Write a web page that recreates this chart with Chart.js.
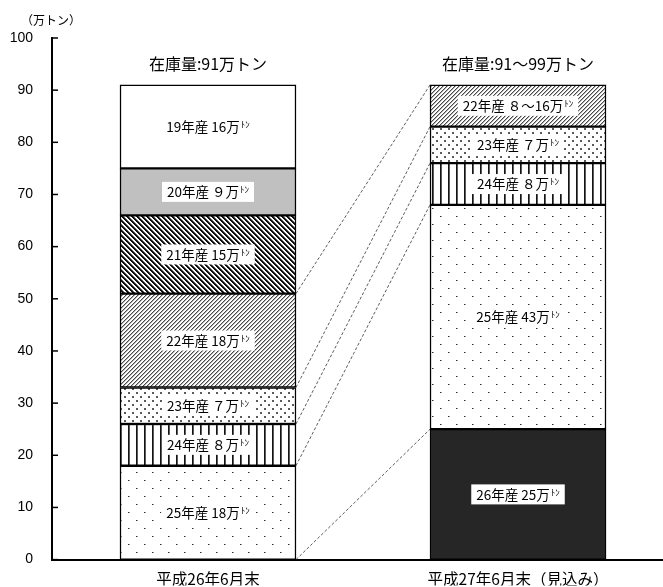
<!DOCTYPE html>
<html>
<head>
<meta charset="utf-8">
<script src="https://cdn.jsdelivr.net/npm/chart.js@4.4.1/dist/chart.umd.min.js"></script>
<style>
  html, body { margin: 0; padding: 0; background: #fff; }
  canvas { display: block; }
</style>
</head>
<body>
<canvas id="stock" width="663" height="587"></canvas>
<script>
// ---- data (stack order: bottom -> top) ----
const categories = ['平成26年6月末', '平成27年6月末（見込み）'];
const totals = ['91', '91～99'];
const vintages = ['26年産', '25年産', '24年産', '23年産', '22年産', '21年産', '20年産', '19年産'];
const stockH26 = [null, 18, 8, 7, 18, 15, 9, 16];
const stockH27 = [25, 43, 8, 7, 8, null, null, null];
const amountH26 = ['', '18', '８', '７', '18', '15', '９', '16'];
const amountH27 = ['25', '43', '８', '７', '８～16', '', '', ''];
const carried = ['25年産', '24年産', '23年産', '22年産'];   // linked by dashed lines
const yMin = 0, yMax = 100, yStep = 10;

const JP = '"Noto Sans CJK JP", sans-serif';

// ---- fill patterns ----
function tile(w, h, fn) {
  const c = document.createElement('canvas');
  c.width = w; c.height = h;
  const ctx = c.getContext('2d');
  const img = ctx.createImageData(w, h);
  for (let y = 0; y < h; y++) {
    for (let x = 0; x < w; x++) {
      const v = fn(x, y);
      const k = (y * w + x) * 4;
      img.data[k] = img.data[k + 1] = img.data[k + 2] = v;
      img.data[k + 3] = 255;
    }
  }
  ctx.putImageData(img, 0, 0);
  return ctx.createPattern(c, 'repeat');
}
const mod = (a, n) => ((a % n) + n) % n;

const fills = {
  '19年産': '#ffffff',
  '20年産': '#c0c0c0',
  '21年産': tile(5, 5, (x, y) => { const m = mod(x - y, 5); return m < 2 ? 15 : m === 2 ? 100 : 255; }),
  '22年産': tile(4, 4, (x, y) => { const m = mod(x + y, 4); return m === 0 ? 70 : m === 1 ? 180 : 255; }),
  '23年産': tile(8, 8, (x, y) => {
    const a = (x < 2 && y < 2) || (x >= 4 && x < 6 && y >= 4 && y < 6);
    return a ? 90 : 255;
  }),
  '24年産': tile(8, 1, (x) => x === 0 ? 20 : x === 1 ? 90 : 255),
  '25年産': tile(16, 16, (x, y) => ((x === 0 && y === 0) || (x === 8 && y === 8)) ? 40 : ((x === 1 && y === 0) || (x === 9 && y === 8)) ? 150 : 255),
  '26年産': '#262626'
};

const datasets = vintages.map((v, i) => ({
  label: v,
  data: [{ x: 0, y: stockH26[i] }, { x: 1, y: stockH27[i] }],
  backgroundColor: fills[v],
  borderColor: '#000',
  borderWidth: 1.5,
  borderSkipped: false,
  barThickness: 176
}));

// segment labels, titles, connectors, inward ticks, unit
const decorations = {
  id: 'decorations',
  afterDatasetsDraw(chart) {
    const ctx = chart.ctx;
    const metas = vintages.map((v, i) => chart.getDatasetMeta(i));
    ctx.save();

    // dashed connectors between carried-over vintages
    ctx.strokeStyle = '#333';
    ctx.lineWidth = 0.8;
    ctx.setLineDash([3, 2]);
    carried.forEach((v, k) => {
      const m = metas[vintages.indexOf(v)];
      const L = m.data[0], R = m.data[1];
      const lx = L.x + L.width / 2, rx = R.x - R.width / 2;
      if (k === 0) {
        ctx.beginPath(); ctx.moveTo(lx, L.base); ctx.lineTo(rx, R.base); ctx.stroke();
      }
      ctx.beginPath(); ctx.moveTo(lx, L.y); ctx.lineTo(rx, R.y); ctx.stroke();
    });
    ctx.setLineDash([]);

    // segment labels
    const amounts = [amountH26, amountH27];
    metas.forEach((m, i) => {
      [0, 1].forEach(j => {
        const a = amounts[j][i];
        if (!a) return;
        const el = m.data[j];
        const cx = el.x, cy = (el.y + el.base) / 2;
        const main = vintages[i] + ' ' + a + '万';
        ctx.font = '13.5px ' + JP;
        const w1 = ctx.measureText(main).width;
        ctx.font = '9px ' + JP;
        const w2 = ctx.measureText('ﾄﾝ').width;
        const tw = w1 + w2 + 1;
        const bx = cx - tw / 2 - 5;
        ctx.fillStyle = '#fff';
        ctx.fillRect(bx, cy - 10, tw + 10, 20);
        ctx.fillStyle = '#000';
        ctx.textBaseline = 'middle';
        ctx.textAlign = 'left';
        ctx.font = '13.5px ' + JP;
        ctx.fillText(main, cx - tw / 2, cy);
        ctx.font = '9px ' + JP;
        ctx.fillText('ﾄﾝ', cx - tw / 2 + w1 + 1, cy - 2);
      });
    });

    // totals above each bar
    ctx.font = '16px ' + JP;
    ctx.textAlign = 'center';
    ctx.textBaseline = 'middle';
    ctx.fillStyle = '#000';
    [0, 1].forEach(j => {
      let top = Infinity, cx = 0;
      metas.forEach(m => { const el = m.data[j]; if (el && !isNaN(el.y)) { top = Math.min(top, el.y); cx = el.x; } });
      ctx.fillText('在庫量:' + totals[j] + '万トン', cx, top - 21);
    });

    // inward y ticks
    const ys = chart.scales.y;
    ctx.strokeStyle = '#000';
    ctx.lineWidth = 1.5;
    ys.ticks.forEach(t => {
      const py = ys.getPixelForValue(t.value);
      ctx.beginPath(); ctx.moveTo(ys.right, py); ctx.lineTo(ys.right + 6, py); ctx.stroke();
    });

    // unit
    ctx.font = '12px ' + JP;
    ctx.textAlign = 'left';
    ctx.fillText('（万トン）', 21, 20);
    ctx.restore();
  }
};

new Chart(document.getElementById('stock'), {
  type: 'bar',
  data: { datasets },
  options: {
    responsive: false,
    animation: false,
    layout: { padding: { top: 38, right: 0, bottom: 0, left: 0 } },
    plugins: { legend: { display: false }, tooltip: { enabled: false } },
    scales: {
      x: {
        type: 'linear',
        stacked: true,
        offset: false,
        min: -0.5032,
        max: 1.4677,
        grid: { display: false, drawTicks: false },
        border: { color: '#000', width: 2 },
        afterBuildTicks: s => { s.ticks = categories.map((c, i) => ({ value: i })); },
        afterFit: s => { s.height = 26; },
        ticks: {
          autoSkip: false,
          maxRotation: 0,
          padding: 10,
          color: '#000',
          font: { family: JP, size: 15.5 },
          callback: v => categories[v]
        }
      },
      y: {
        stacked: true,
        min: yMin,
        max: yMax,
        grid: { display: false, drawTicks: false },
        border: { color: '#000', width: 2 },
        afterFit: s => { s.width = 52; },
        ticks: {
          stepSize: yStep,
          padding: 19,
          color: '#000',
          font: { family: '"Liberation Sans", Arial, sans-serif', size: 14 }
        }
      }
    }
  },
  plugins: [decorations]
});
</script>
</body>
</html>
